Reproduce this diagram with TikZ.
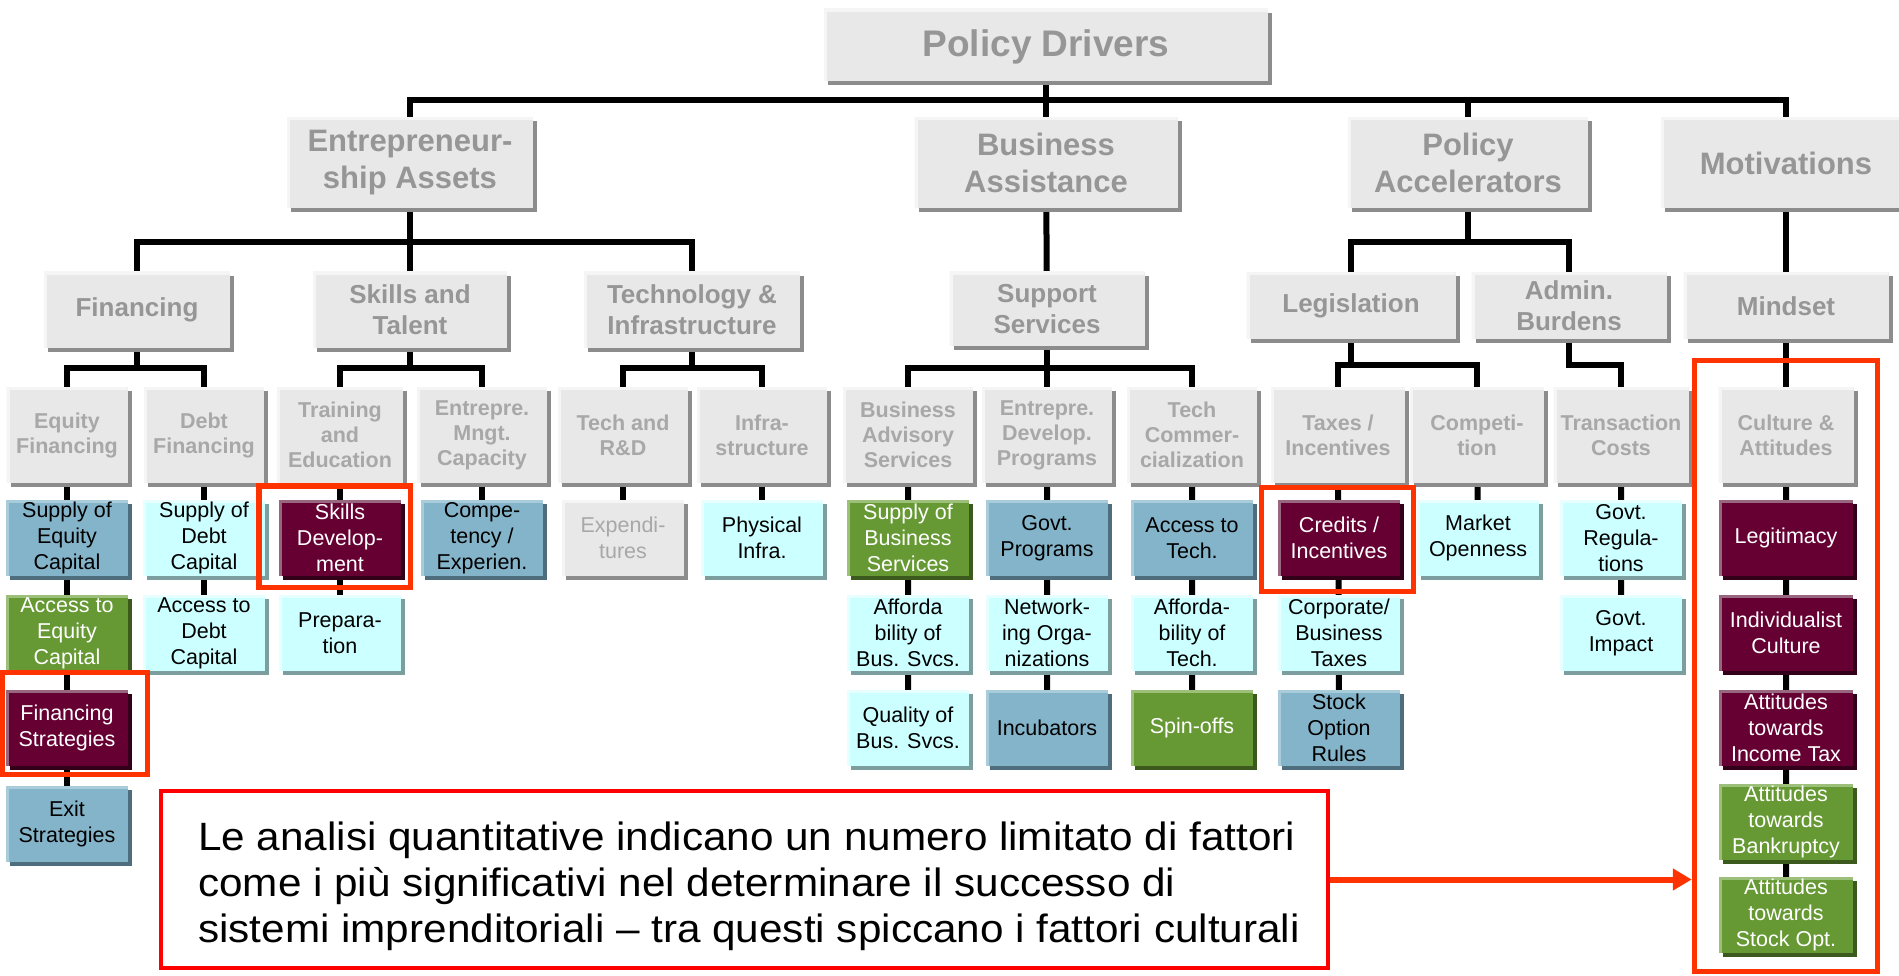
\documentclass[tikz,border=0pt]{standalone}
\usepackage{fontspec}
\setmainfont{Liberation Sans}
\newfontfamily\notefont[FakeStretch=1.07]{Liberation Sans}
\usetikzlibrary{shadows,arrows.meta,backgrounds}
\definecolor{hdrfill}{HTML}{E8E8E8}
\definecolor{hdrshade}{HTML}{8C8C8C}
\definecolor{hdrlight}{HTML}{F5F5F5}
\definecolor{hdrtext}{HTML}{969696}
\definecolor{subtext}{HTML}{A8A8A8}
\definecolor{blufill}{HTML}{84B4C9}
\definecolor{blushade}{HTML}{4E6E7E}
\definecolor{blulight}{HTML}{A9CCDB}
\definecolor{cynfill}{HTML}{CCFFFF}
\definecolor{cynshade}{HTML}{7D9E9E}
\definecolor{cynlight}{HTML}{E8FFFF}
\definecolor{grnfill}{HTML}{669933}
\definecolor{grnshade}{HTML}{3C5A1E}
\definecolor{grnlight}{HTML}{9CBF7A}
\definecolor{marfill}{HTML}{660033}
\definecolor{marshade}{HTML}{33001A}
\definecolor{marlight}{HTML}{996680}
\definecolor{hilite}{HTML}{FF3300}
\tikzset{
	boxed/.style n args={3}{fill=#1, inner sep=0pt, align=center,
		drop shadow={shadow xshift=4pt, shadow yshift=-4pt, opacity=1, fill=#2},
		path picture={\draw[#3, line width=6pt] (path picture bounding box.south west) -- (path picture bounding box.north west) -- (path picture bounding box.north east);}},
	hdr/.style={boxed={hdrfill}{hdrshade}{hdrlight}, text=hdrtext},
	lvzero/.style={hdr, font=\bfseries\fontsize{37}{42}\selectfont},
	lvone/.style={hdr, minimum height=91pt, font=\bfseries\fontsize{31}{37}\selectfont},
	lvtwo/.style={hdr, minimum height=76pt, font=\bfseries\fontsize{26}{31}\selectfont},
	lvthree/.style={hdr, text=subtext, minimum width=130pt, minimum height=96pt, font=\bfseries\fontsize{21.5}{25}\selectfont},
	leaf/.style={minimum width=122pt, minimum height=76pt, font=\fontsize{21.5}{26}\selectfont},
	blu/.style={leaf, boxed={blufill}{blushade}{blulight}},
	cyn/.style={leaf, boxed={cynfill}{cynshade}{cynlight}},
	grn/.style={leaf, boxed={grnfill}{grnshade}{grnlight}, text=white},
	mar/.style={leaf, boxed={marfill}{marshade}{marlight}, text=white},
	gry/.style={leaf, hdr, text=subtext},
	conn/.style={draw=black, line width=6pt},
	hlframe/.style={draw=hilite, line width=5.5pt, inner sep=0pt},
}
\begin{document}
\begin{tikzpicture}[x=1pt,y=-1pt]
	\useasboundingbox (0,0) rectangle (1899,976);
	\node[lvzero, minimum width=444pt, minimum height=72pt, text depth=4pt] (PD) at (1046,45) {Policy Drivers};
	\node[lvone, minimum width=246pt] (EA) at (410,163) {Entrepreneur-\\ship Assets};
	\node[lvone, minimum width=263pt] (BA) at (1046,163) {Business\\Assistance};
	\node[lvone, minimum width=240pt] (PA) at (1468,163) {Policy\\Accelerators};
	\node[lvone, minimum width=250pt] (MV) at (1786,163) {Motivations};
	\node[lvtwo, minimum width=186pt] (FIN) at (137,310) {Financing};
	\node[lvtwo, minimum width=194pt] (SKT) at (410,310) {Skills and\\Talent};
	\node[lvtwo, minimum width=216pt] (TEI) at (692,310) {Technology \&\\Infrastructure};
	\node[lvtwo, minimum width=195pt, minimum height=74pt] (SUS) at (1047,309) {Support\\Services};
	\node[lvtwo, minimum width=209pt, minimum height=67pt] (LEG) at (1351,306) {Legislation};
	\node[lvtwo, minimum width=195pt, minimum height=67pt] (ADB) at (1569,306) {Admin.\\Burdens};
	\node[lvtwo, minimum width=205pt, minimum height=67pt] (MIN) at (1786,306) {Mindset};
	\node[lvthree, minimum width=121pt] (EQF) at (67,435) {Equity\\Financing};
	\node[lvthree, minimum width=120pt] (DBF) at (204,435) {Debt\\Financing};
	\node[lvthree, minimum width=126pt] (TRE) at (340,435) {Training\\and\\Education};
	\node[lvthree] (EMC) at (482,435) {Entrepre.\\Mngt.\\Capacity};
	\node[lvthree] (TRD) at (623,435) {Tech and\\R\&D};
	\node[lvthree] (INF) at (762,435) {Infra-\\structure};
	\node[lvthree] (BAS) at (908,435) {Business\\Advisory\\Services};
	\node[lvthree] (EDP) at (1047,435) {Entrepre.\\Develop.\\Programs};
	\node[lvthree] (TCO) at (1192,435) {Tech\\Commer-\\cialization};
	\node[lvthree, minimum width=134pt] (TAX) at (1338,435) {Taxes /\\Incentives};
	\node[lvthree, minimum width=134pt] (CMP) at (1477,435) {Competi-\\tion};
	\node[lvthree, minimum width=135pt] (TRC) at (1621,435) {Transaction\\Costs};
	\node[lvthree, minimum width=135pt] (CUL) at (1786,435) {Culture \&\\Attitudes};
	\node[blu] (SEC) at (67,538) {Supply of\\Equity\\Capital};
	\node[grn] (AEC) at (67,633) {Access to\\Equity\\Capital};
	\node[mar] (FST) at (67,728) {Financing\\Strategies};
	\node[blu] (EXS) at (67,824) {Exit\\Strategies};
	\node[cyn] (SDC) at (204,538) {Supply of\\Debt\\Capital};
	\node[cyn] (ADC) at (204,633) {Access to\\Debt\\Capital};
	\node[mar] (SKD) at (340,538) {Skills\\Develop-\\ment};
	\node[cyn] (PRP) at (340,633) {Prepara-\\tion};
	\node[blu] (CEX) at (482,538) {Compe-\\tency /\\Experien.};
	\node[gry] (EXP) at (623,538) {Expendi-\\tures};
	\node[cyn] (PHI) at (762,538) {Physical\\Infra.};
	\node[grn] (SBS) at (908,538) {Supply of\\Business\\Services};
	\node[cyn] (ABS) at (908,633) {Afforda\\bility of\\Bus. Svcs.};
	\node[cyn] (QBS) at (908,728) {Quality of\\Bus. Svcs.};
	\node[blu] (GVP) at (1047,538) {Govt.\\Programs};
	\node[cyn] (NWO) at (1047,633) {Network-\\ing Orga-\\nizations};
	\node[blu] (INC) at (1047,728) {Incubators};
	\node[blu] (ATT) at (1192,538) {Access to\\Tech.};
	\node[cyn] (AFT) at (1192,633) {Afforda-\\bility of\\Tech.};
	\node[grn] (SPO) at (1192,728) {Spin-offs};
	\node[mar] (CRI) at (1339,538) {Credits /\\Incentives};
	\node[cyn] (CBT) at (1339,633) {Corporate/\\Business\\Taxes};
	\node[blu] (SOR) at (1339,728) {Stock\\Option\\Rules};
	\node[cyn] (MKO) at (1478,538) {Market\\Openness};
	\node[cyn] (GVR) at (1621,538) {Govt.\\Regula-\\tions};
	\node[cyn] (GVI) at (1621,633) {Govt.\\Impact};
	\node[mar, minimum width=134pt] (LGT) at (1786,538) {Legitimacy};
	\node[mar, minimum width=134pt] (IDC) at (1786,633) {Individualist\\Culture};
	\node[mar, minimum width=134pt] (AIT) at (1786,728) {Attitudes\\towards\\Income Tax};
	\node[grn, minimum width=134pt] (ABK) at (1786,822) {Attitudes\\towards\\Bankruptcy};
	\node[grn, minimum width=134pt] (ASO) at (1786,915) {Attitudes\\towards\\Stock Opt.};
	\begin{scope}[on background layer]
		\draw[conn] (PD) -- (BA);
		\draw[conn] (EA) -- (EA |- 0,100) -- (MV |- 0,100) -- (MV);
		\draw[conn] (PA) -- (PA |- 0,100);
		\draw[conn] (EA) -- (SKT);
		\draw[conn] (FIN) -- (FIN |- 0,242) -- (TEI |- 0,242) -- (TEI);
		\draw[conn] (BA) -- (SUS);
		\draw[conn] (PA) -- (PA |- 0,242);
		\draw[conn] (LEG) -- (LEG |- 0,242) -- (ADB |- 0,242) -- (ADB);
		\draw[conn] (MV) -- (MIN);
		\draw[conn] (FIN) -- (FIN |- 0,368);
		\draw[conn] (EQF) -- (EQF |- 0,368) -- (DBF |- 0,368) -- (DBF);
		\draw[conn] (SKT) -- (SKT |- 0,368);
		\draw[conn] (TRE) -- (TRE |- 0,368) -- (EMC |- 0,368) -- (EMC);
		\draw[conn] (TEI) -- (TEI |- 0,368);
		\draw[conn] (TRD) -- (TRD |- 0,368) -- (INF |- 0,368) -- (INF);
		\draw[conn] (SUS) -- (EDP);
		\draw[conn] (BAS) -- (BAS |- 0,368) -- (TCO |- 0,368) -- (TCO);
		\draw[conn] (LEG) -- (LEG |- 0,365);
		\draw[conn] (TAX) -- (TAX |- 0,365) -- (CMP |- 0,365) -- (CMP);
		\draw[conn] (ADB) -- (ADB |- 0,365) -- (TRC |- 0,365) -- (TRC);
		\draw[conn] (MIN) -- (CUL);
		\draw[conn] (EQF) -- (EXS) (DBF) -- (ADC) (TRE) -- (PRP) (EMC) -- (CEX) (TRD) -- (EXP) (INF) -- (PHI);
		\draw[conn] (BAS) -- (QBS) (EDP) -- (INC) (TCO) -- (SPO) (TAX) -- (SOR) (CMP) -- (MKO) (TRC) -- (GVI) (CUL) -- (ASO);
	\end{scope}
	\node[hlframe, minimum width=145pt, minimum height=102pt] (FSF) at (75,723.5) {};
	\node[hlframe, minimum width=151.5pt, minimum height=101.5pt] (SKF) at (334.5,536.5) {};
	\node[hlframe, minimum width=152pt, minimum height=104pt] (CRF) at (1337.5,539.5) {};
	\node[hlframe, minimum width=183pt, minimum height=611pt] (CUF) at (1786,666) {};
	\node[draw=red, line width=4.5pt, minimum width=1167pt, minimum height=177pt] (NOTE) at (744.5,879.5) {};
	\node[anchor=west, align=left, inner sep=0pt, font=\notefont\fontsize{39.5}{46}\selectfont] (TXT) at (198,886) {Le analisi quantitative indicano un numero limitato di fattori\\come i più significativi nel determinare il successo di\\sistemi imprenditoriali – tra questi spiccano i fattori culturali};
	\draw[hilite, line width=6pt, -{Triangle[length=19pt,width=21pt]}] (NOTE.east) -- (NOTE.east -| CUF.west);
\end{tikzpicture}
\end{document}
